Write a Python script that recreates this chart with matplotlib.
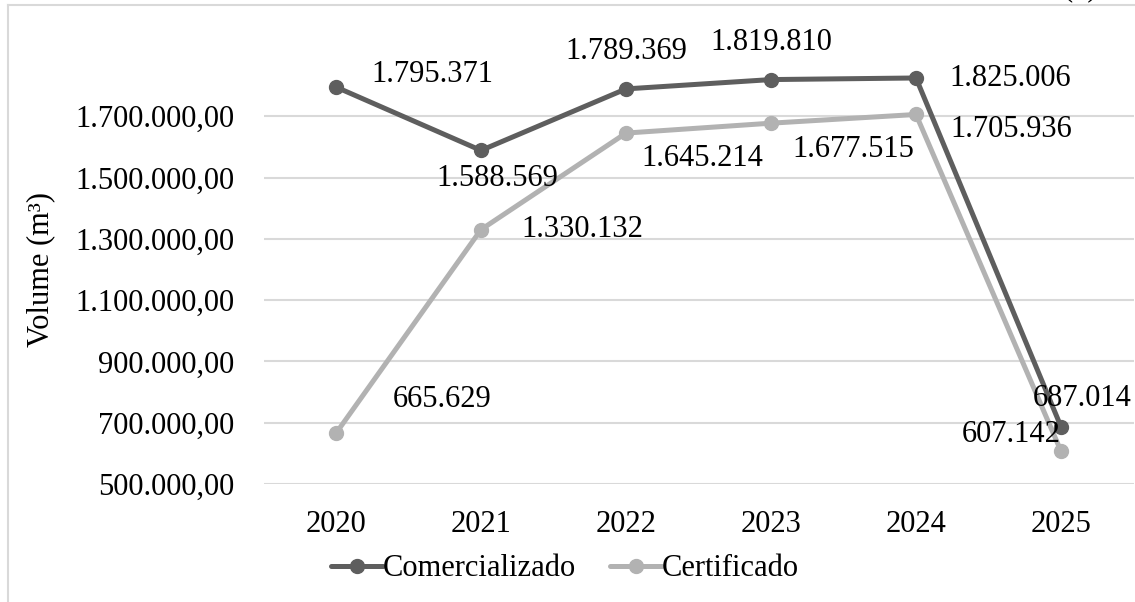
import matplotlib
matplotlib.use("Agg")
import matplotlib.pyplot as plt
from matplotlib.lines import Line2D
from matplotlib.ticker import FuncFormatter

years = ["2020", "2021", "2022", "2023", "2024", "2025"]
comercializado = [1795371, 1588569, 1789369, 1819810, 1825006, 687014]
certificado = [665629, 1330132, 1645214, 1677515, 1705936, 607142]
yticks = [500000, 700000, 900000, 1100000, 1300000, 1500000, 1700000]

def fmt_label(v):
    return f"{v:,}".replace(",", ".")

def fmt_tick(v, pos=None):
    s = f"{v:,.2f}"
    return s.replace(",", "X").replace(".", ",").replace("X", ".")

plt.rcParams['font.family'] = ['Liberation Serif', 'DejaVu Serif']

fig = plt.figure(figsize=(11.35, 6.02), dpi=100)
ax = fig.add_axes([263.5/1135, 1 - 484/602, (1133.5-263.5)/1135, (484-55)/602])

x = list(range(len(years)))
dark = "#5e5e5e"
light = "#b2b2b2"
ax.plot(x, comercializado, color=dark, lw=3.6, marker="o", ms=10, label="Comercializado", zorder=4, solid_capstyle="round")
ax.plot(x, certificado, color=light, lw=3.6, marker="o", ms=10, label="Certificado", zorder=3, solid_capstyle="round")

ax.set_xlim(-0.5, 5.5)
ax.set_ylim(500000, 1900000)
ax.set_yticks(yticks)
ax.yaxis.set_major_formatter(FuncFormatter(fmt_tick))
ax.set_xticks(x)
ax.set_xticklabels(years)
ax.tick_params(axis="both", length=0, labelsize=22, colors="#000000")
ax.tick_params(axis="y", pad=21)
ax.tick_params(axis="x", pad=19)
ax.grid(axis="y", color="#d9d9d9", lw=1.5)
ax.set_axisbelow(True)
for s in ax.spines.values():
    s.set_visible(False)

ax.set_ylabel("Volume (m³)", fontsize=22)
ax.yaxis.set_label_coords((55 - 263.5) / 870, 0.5)

# label offsets in pixels (dx, dy) from the data point, text centred
com_off = [(96, 13), (16, -28), (0, 37), (0, 37), (94, -1), (21, 28)]
cer_off = [(106, 34), (101, 0), (76, -25), (82, -26), (95, -15), (-50, 17)]

for i, v in enumerate(comercializado):
    dx, dy = com_off[i]
    ax.annotate(fmt_label(v), (i, v), xytext=(dx, dy), textcoords="offset pixels",
                ha="center", va="center", fontsize=22, zorder=6)
for i, v in enumerate(certificado):
    dx, dy = cer_off[i]
    ax.annotate(fmt_label(v), (i, v), xytext=(dx, dy), textcoords="offset pixels",
                ha="center", va="center", fontsize=22, zorder=6)

leg = fig.legend(loc="center", bbox_to_anchor=(565/1135, 1 - 569/602), ncol=2, frameon=False,
                 fontsize=22, handlelength=1.7, handletextpad=0.0, columnspacing=1.1,
                 borderaxespad=0)

# chart border (left and top edges visible)
fig.add_artist(Line2D([8/1135, 8/1135], [0, 1 - 5/602], color="#d9d9d9", lw=1.5, transform=fig.transFigure))
fig.add_artist(Line2D([8/1135, 1], [1 - 5/602, 1 - 5/602], color="#d9d9d9", lw=1.5, transform=fig.transFigure))
fig.text(1080/1135, 1 + 11/602, "(b)", fontsize=22, ha="center", va="center")

fig.savefig("out.png", dpi=100)
